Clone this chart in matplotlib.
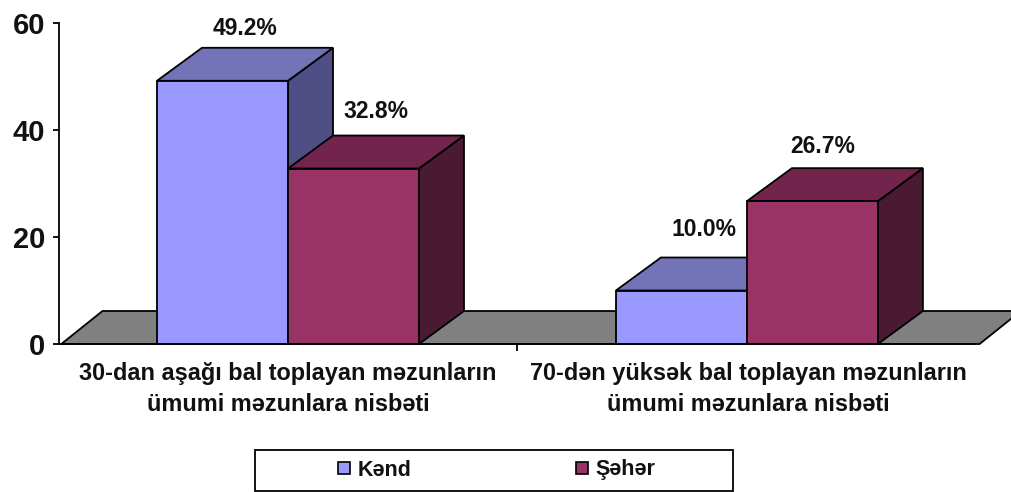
import matplotlib
matplotlib.use("Agg")
import matplotlib.pyplot as plt
from matplotlib.lines import Line2D
from matplotlib.patches import Polygon, Rectangle

categories = ["30-dan aşağı bal toplayan məzunların\nümumi məzunlara nisbəti",
              "70-dən yüksək bal toplayan məzunların\nümumi məzunlara nisbəti"]
kend = [49.2, 10.0]
seher = [32.8, 26.7]
series_names = ["Kənd", "Şəhər"]
y_ticks = [0, 20, 40, 60]

# front, top, side
kend_colors = ("#9999FF", "#7373B8", "#4F4F85")
seher_colors = ("#993366", "#72244C", "#4A1A33")
floor_color = "#808080"
text_color = "#111111"

W, H = 1012, 492
plt.rcParams["font.family"] = ["Liberation Sans", "DejaVu Sans"]

fig = plt.figure(figsize=(W / 100, H / 100), dpi=100)
ax = fig.add_axes([59 / W, (H - 344) / H, 916 / W, 321 / H])
ax.set_xlim(-0.5, 1.5)
ax.set_ylim(0, 60)

bar_w = 0.286
depth_x = 45 / 458
depth_y = 33 / 5.35
lw = 1.3


def draw_bar(x, h, colors, z):
    left = x
    right = x + bar_w
    top = [(left, h), (right, h), (right + depth_x, h + depth_y), (left + depth_x, h + depth_y)]
    side = [(right, 0), (right + depth_x, depth_y), (right + depth_x, h + depth_y), (right, h)]
    for pts, c in ((side, colors[2]), (top, colors[1])):
        ax.add_patch(Polygon(pts, closed=True, facecolor=c, edgecolor="black",
                             linewidth=lw, zorder=z, clip_on=False))
    ax.bar(x, h, width=bar_w, align="edge", color=colors[0], edgecolor="black",
           linewidth=lw, zorder=z, clip_on=False)


# floor
ax.add_patch(Polygon([(-0.495, 0), (1.51, 0), (1.51 + 0.09, depth_y), (-0.495 + 0.09, depth_y)],
                     closed=True, facecolor=floor_color, edgecolor="black", linewidth=lw,
                     zorder=1, clip_on=False))

# label offsets from the bar's back top edge, in pixels
label_dy = [[19, 28], [24, 22]]
label_dx = [[0, 0], [0, -12]]
for i in range(len(categories)):
    x0 = i + 0.002 * i
    draw_bar(x0 - bar_w, kend[i], kend_colors, 2 + i * 2)
    draw_bar(x0, seher[i], seher_colors, 3 + i * 2)
    for j, (val, x) in enumerate(((kend[i], x0 - bar_w), (seher[i], x0))):
        ax.annotate("%.1f%%" % val, (x + bar_w / 2 + depth_x / 2, val + depth_y),
                    xytext=(label_dx[j][i] * 0.72, label_dy[j][i] * 0.72), textcoords="offset points",
                    ha="center", va="center", fontsize=16.5, fontweight="bold",
                    color=text_color, zorder=10)

for s in ("top", "right"):
    ax.spines[s].set_visible(False)
for s in ("left", "bottom"):
    ax.spines[s].set_linewidth(lw)
    ax.spines[s].set_zorder(6)

ax.set_yticks(y_ticks)
ax.tick_params(axis="y", length=4, width=lw, pad=6, labelsize=21, labelcolor=text_color)
for t in ax.get_yticklabels():
    t.set_fontweight("bold")

ax.set_xticks([0.5])
ax.set_xticklabels([""])
ax.tick_params(axis="x", length=5, width=lw)
for i, c in enumerate(categories):
    ax.annotate(c, (i + 0.005 * i, 0), xytext=(0, -13), textcoords="offset points", ha="center", va="top",
                fontsize=16.9, fontweight="bold", color=text_color, linespacing=1.42)

# legend
fig.add_artist(Rectangle((255 / W, (H - 491) / H), 478 / W, 41 / H, transform=fig.transFigure,
                         facecolor="white", edgecolor="black", linewidth=1.3))
handles = [Line2D([], [], linestyle="none", marker="s", markersize=8.5, markerfacecolor=c[0],
                  markeredgecolor="black", markeredgewidth=1.2) for c in (kend_colors, seher_colors)]
leg = fig.legend(handles, series_names, ncol=2, loc="center", frameon=False,
                 bbox_to_anchor=(489 / W, (H - 470) / H), handletextpad=-0.35,
                 columnspacing=6.9, prop={"size": 15.5, "weight": "bold"})
for t in leg.get_texts():
    t.set_color(text_color)

fig.savefig("out.png", dpi=100)
